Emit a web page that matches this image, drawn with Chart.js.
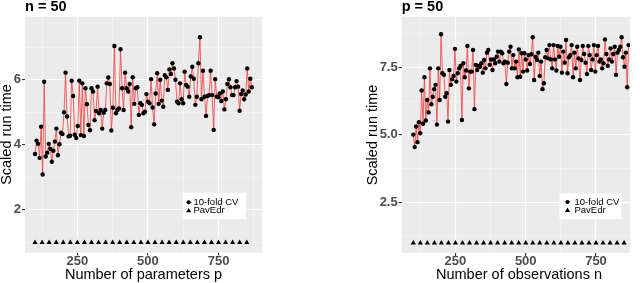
<!DOCTYPE html>
<html>
<head>
<meta charset="utf-8">
<script src="https://cdn.jsdelivr.net/npm/chart.js@4.4.1/dist/chart.umd.min.js"></script>
<style>
  html,body{margin:0;padding:0;background:#fff;}
  #wrap{position:relative;width:640px;height:283px;overflow:hidden;}
  canvas{position:absolute;top:0;}
  #c1{left:0;} #c2{left:320px;}
</style>
</head>
<body>
<div id="wrap">
<canvas id="c1" width="320" height="283"></canvas>
<canvas id="c2" width="320" height="283"></canvas>
</div>
<script>
// ---------- Data ----------
// Left panel: n = 50, x = number of parameters p
const leftPFirst = 100, leftPLast = 868;
const leftCV = [3.72,4.13,4.03,3.6,4.56,3.09,5.94,3.64,3.76,4.03,3.88,3.48,3.82,4.1,4.5,3.68,4.02,4.37,4.33,5.0,6.22,4.87,4.26,4.28,5.97,5.5,4.31,4.21,4.58,5.97,4.30,5.89,4.27,5.74,5.25,4.61,4.45,5.74,5.64,4.76,5.04,5.79,4.97,5.07,4.5,4.99,5.07,5.89,6.07,5.87,4.44,5.14,7.04,4.97,5.07,5.12,6.94,5.74,5.07,6.22,5.74,5.64,5.87,4.54,6.08,5.26,5.74,5.77,4.92,5.28,5.23,4.97,5.02,5.56,5.33,5.28,6.02,5.15,4.63,5.58,6.2,5.26,6.0,5.36,5.17,6.14,6.08,5.69,6.32,6.18,6.51,6.35,6.0,5.33,5.28,5.89,5.4,5.28,6.25,5.84,5.79,5.48,6.1,6.4,6.03,5.23,5.48,6.51,7.31,5.4,6.28,5.48,4.89,5.5,5.53,6.28,5.53,4.46,6.02,5.48,5.46,5.58,5.35,5.64,5.09,5.4,5.87,6.02,5.77,5.53,5.53,5.77,5.96,5.79,5.05,5.56,5.67,5.4,5.55,6.35,5.64,6.03,5.77];
// Right panel: p = 50, x = number of observations n
const rightNFirst = 100, rightNLast = 866;
const rightCV = [5.01,4.55,5.31,4.73,5.47,5.06,6.64,5.41,7.13,5.53,6.29,5.83,7.46,6.13,6.41,6.69,6.85,5.38,7.46,6.29,8.72,7.28,7.22,6.41,6.54,5.49,7.4,6.85,7.06,7.18,8.18,6.97,7.28,7.46,7.55,5.55,7.65,7.13,7.38,8.29,6.72,7.34,7.34,8.14,5.95,7.59,7.4,7.55,7.52,7.65,7.3,7.77,7.46,8.04,8.14,7.59,7.79,7.4,7.79,7.65,7.89,8.08,7.71,8.08,8.02,7.65,7.71,6.88,7.67,8.08,8.26,7.46,7.95,7.46,7.71,7.13,8.16,7.15,8.02,7.34,8.02,7.79,7.38,7.95,7.62,7.98,8.61,7.03,7.89,7.77,8.04,7.18,7.71,6.69,6.91,7.87,8.14,7.83,8.32,7.79,7.46,8.32,7.79,7.38,8.29,7.89,8.26,7.3,8.08,7.67,8.51,7.28,7.87,7.95,8.32,7.13,8.04,7.46,8.26,7.83,7.03,7.77,8.29,7.99,7.67,7.25,8.29,7.95,7.4,7.79,8.32,7.34,7.95,8.29,7.71,7.79,7.46,7.65,8.53,7.99,7.55,7.79,8.2,7.71,7.99,8.26,7.22,8.04,8.14,8.26,8.61,7.87,7.52,8.04,6.76,8.32];
// PavEdr (both panels)
const pavX = [100,125,150,175,200,225,250,275,300,325,350,375,400,425,450,475,500,525,550,575,600,625,650,675,700,725,750,775,800,825,850];
const pavY = [1,1,1,1,1,1,1,1,1,1,1,1,1,1,1,1,1,1,1,1,1,1,1,1,1,1,1,1,1,1,1];
// Ticks
const xMajorTicks = [250,500,750];
const xMinorTicks = [125,375,625,875];
const leftYMajor = [2,4,6];
const leftYMinor = [1,3,5,7];
const rightYMajor = [2.5,5.0,7.5];
const rightYMinor = [1.25,3.75,6.25,8.75];
const legendLabels = ['10-fold CV','PavEdr'];

// ---------- helpers ----------
const FAM = '"Liberation Sans", Arial, Helvetica, sans-serif';
function spread(first,last,vals){
  const step=(last-first)/(vals.length-1);
  return vals.map((y,i)=>({x:first+i*step,y:y}));
}
function pts(xs,ys){return xs.map((x,i)=>({x:x,y:ys[i]}));}

function makePanel(id, cfg){
  const ctxEl=document.getElementById(id);
  const allX=[...xMinorTicks,...xMajorTicks].sort((a,b)=>a-b);
  const allY=[...cfg.yMinor,...cfg.yMajor].sort((a,b)=>a-b);
  const decorate={
    id:'decor',
    beforeDraw(chart){
      const {ctx,chartArea:a}=chart;
      ctx.save();ctx.fillStyle='#ebebeb';
      ctx.fillRect(a.left,a.top,a.right-a.left,a.bottom-a.top);
      ctx.restore();
    },
    afterDraw(chart){
      const {ctx}=chart;
      ctx.save();
      ctx.fillStyle='#000';
      ctx.font='bold 14.5px '+FAM;
      ctx.textAlign='left';ctx.textBaseline='alphabetic';
      ctx.fillText(cfg.title,cfg.titleX,10.5);
      ctx.font='14.5px '+FAM;
      ctx.textAlign='center';
      ctx.fillText(cfg.xTitle,cfg.xTitleX,278.5);
      ctx.save();
      ctx.translate(cfg.yTitleX,cfg.yTitleY);
      ctx.rotate(-Math.PI/2);
      ctx.textBaseline='middle';
      ctx.fillText('Scaled run time',0,0);
      ctx.restore();
      const L=cfg.legend;
      ctx.fillStyle='#fff';
      ctx.fillRect(L.x,L.y,L.w,L.h);
      ctx.strokeStyle='rgba(240,70,70,0.9)';ctx.lineWidth=1;
      ctx.beginPath();ctx.moveTo(L.mx-3,L.r1);ctx.lineTo(L.mx+3,L.r1);ctx.stroke();
      ctx.fillStyle='#000';
      ctx.beginPath();ctx.arc(L.mx,L.r1,2,0,Math.PI*2);ctx.fill();
      ctx.beginPath();
      ctx.moveTo(L.mx,L.r2-2.6);ctx.lineTo(L.mx+2.6,L.r2+1.8);ctx.lineTo(L.mx-2.6,L.r2+1.8);ctx.closePath();ctx.fill();
      ctx.font='9.5px '+FAM;
      ctx.textAlign='left';ctx.textBaseline='middle';
      ctx.fillText(legendLabels[0],L.tx,L.r1);
      ctx.fillText(legendLabels[1],L.tx,L.r2);
      ctx.restore();
    }
  };
  const gridOpts=(major)=>({
    color:c=>major.includes(c.tick&&c.tick.value)?'#ffffff':'rgba(255,255,255,0.6)',
    lineWidth:c=>major.includes(c.tick&&c.tick.value)?1.1:0.6,
    tickColor:c=>major.includes(c.tick&&c.tick.value)?'#333333':'rgba(0,0,0,0)',
    tickLength:3,
    drawTicks:true
  });
  return new Chart(ctxEl,{
    type:'line',
    data:{datasets:[
      {label:legendLabels[0],data:cfg.cv,borderColor:'rgba(240,60,60,0.8)',borderWidth:1,
       pointRadius:2.2,pointBackgroundColor:'#000',pointBorderWidth:0,pointHoverRadius:2.2,fill:false,tension:0},
      {label:legendLabels[1],data:cfg.pav,showLine:false,pointStyle:'triangle',pointRadius:3,
       pointBackgroundColor:'#000',pointBorderColor:'#000',pointBorderWidth:0}
    ]},
    options:{
      responsive:false,animation:false,devicePixelRatio:1,
      layout:{padding:cfg.padding},
      plugins:{legend:{display:false},tooltip:{enabled:false},title:{display:false}},
      scales:{
        x:{type:'linear',min:cfg.xMin,max:cfg.xMax,
          afterBuildTicks:ax=>{ax.ticks=allX.filter(v=>v>=ax.min&&v<=ax.max).map(v=>({value:v}));},
          afterFit:s=>{s.height=cfg.xAxisH;},
          ticks:{autoSkip:false,maxRotation:0,padding:-2,color:'#4d4d4d',
            font:{family:FAM,size:13,weight:'bold'},
            callback:v=>xMajorTicks.includes(v)?String(v):''},
          grid:gridOpts(xMajorTicks),border:{display:false}},
        y:{type:'linear',min:cfg.yMin,max:cfg.yMax,
          afterBuildTicks:ax=>{ax.ticks=allY.filter(v=>v>=ax.min&&v<=ax.max).map(v=>({value:v}));},
          afterFit:s=>{s.width=cfg.yAxisW;},
          ticks:{autoSkip:false,padding:1,color:'#4d4d4d',
            font:{family:FAM,size:13,weight:'bold'},
            callback:v=>cfg.yMajor.includes(v)?cfg.yFmt(v):''},
          grid:gridOpts(cfg.yMajor),border:{display:false}}
      }
    },
    plugins:[decorate]
  });
}

makePanel('c1',{
  cv:spread(leftPFirst,leftPLast,leftCV), pav:pts(pavX,pavY),
  xMin:64.5,xMax:904,yMin:0.69,yMax:7.94,
  yMajor:leftYMajor,yMinor:leftYMinor,yFmt:v=>String(v),
  padding:{left:0,top:16.7,right:58,bottom:0},xAxisH:30.5,yAxisW:25,
  title:'n = 50',titleX:25,xTitle:'Number of parameters p',xTitleX:143.5,
  yTitleX:7,yTitleY:134.5,
  legend:{x:182.7,y:192.7,w:63.3,h:26.3,mx:188.7,tx:193.5,r1:202.3,r2:210.5}
});
makePanel('c2',{
  cv:spread(rightNFirst,rightNLast,rightCV), pav:pts(pavX,pavY),
  xMin:58.7,xMax:871,yMin:0.63,yMax:9.37,
  yMajor:rightYMajor,yMinor:rightYMinor,yFmt:v=>v.toFixed(1),
  padding:{left:56.7,top:16.7,right:10,bottom:0},xAxisH:30,yAxisW:25,
  title:'p = 50',titleX:81.7,xTitle:'Number of observations n',xTitleX:199,
  yTitleX:52.5,yTitleY:135,
  legend:{x:239.5,y:193.5,w:62,h:25.5,mx:247.5,tx:254.5,r1:201.9,r2:210.2}
});
</script>
</body>
</html>
